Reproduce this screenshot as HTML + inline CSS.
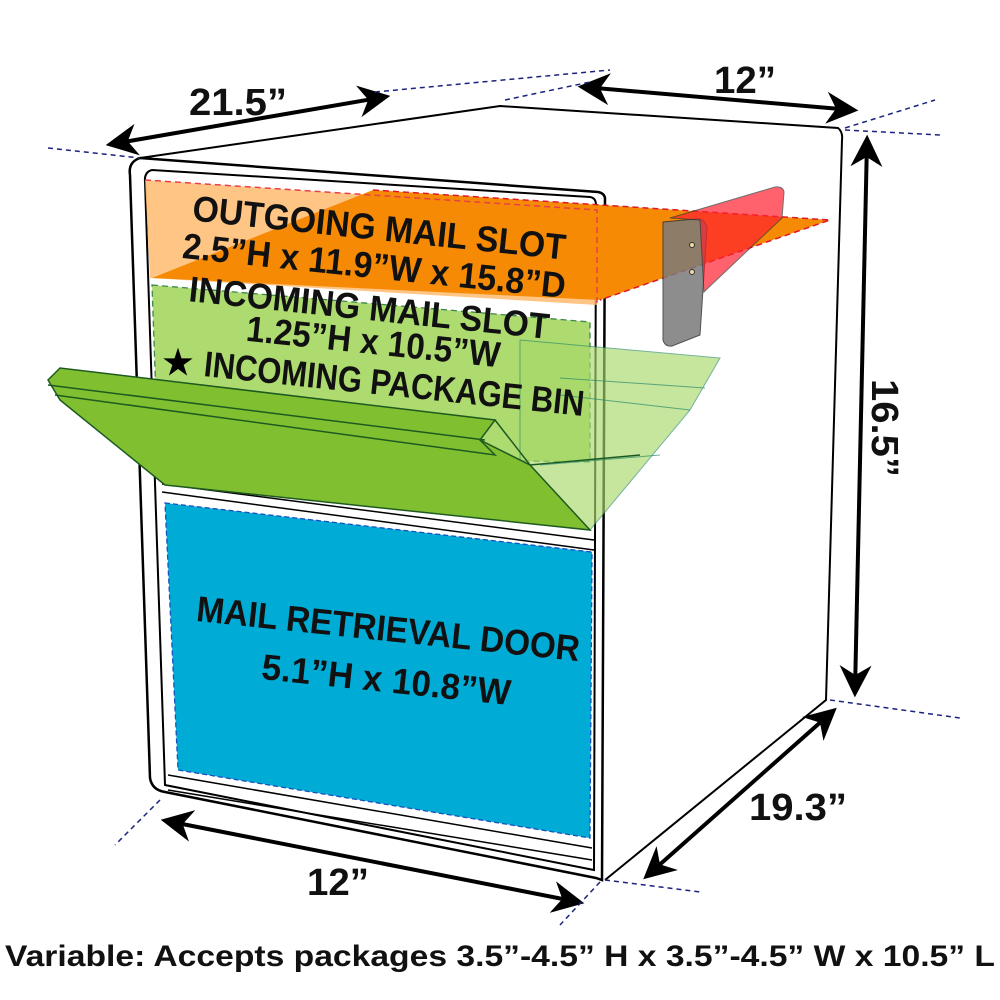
<!DOCTYPE html>
<html><head><style>body{margin:0;background:#fff}svg{display:block}</style></head><body>
<svg width="1000" height="1000" viewBox="0 0 1000 1000" xmlns="http://www.w3.org/2000/svg" font-family="Liberation Sans, sans-serif">
<defs>
<marker id="ah" viewBox="0 0 10 10" refX="8" refY="5" markerWidth="8" markerHeight="8" orient="auto-start-reverse"><path d="M0,0 L10,5 L0,10 L3,5 z" fill="#000"/></marker>
</defs>
<path d="M140,158 L500,106 L838,128 Q843,132 842,140 L826,700 L605,880" fill="none" stroke="#000" stroke-width="2"/>
<path d="M140,158 Q128,162 130,175 L150,778 Q152,790 165,792 L596,878 L602,880 L605,198 Q604,193 598,192 Z" fill="#fff" stroke="#000" stroke-width="2.5"/>
<path d="M152,170 Q144,172 145,182 L165,785 L594,870 L596,205 Q596,198 590,197 Z" fill="none" stroke="#000" stroke-width="2"/>
<line x1="162" y1="484" x2="594" y2="540" stroke="#000" stroke-width="1.5"/>
<line x1="162" y1="492" x2="594" y2="550" stroke="#000" stroke-width="1.5"/>
<line x1="168" y1="775" x2="592" y2="848" stroke="#000" stroke-width="1.5"/>
<line x1="168" y1="790" x2="592" y2="860" stroke="#000" stroke-width="1.5"/>
<path d="M165,503 L592,552 L590,838 L178,770 Z" fill="#00acd6" stroke="#1a4fc0" stroke-width="1.3" stroke-dasharray="5,3"/>
<path d="M145,180 L597,210 L597,305 L150,278 Z" fill="#ffb767" opacity="0.8"/>
<path d="M373,190 L830,220 L600,300 L152,278 Z" fill="#f68a05"/>
<path d="M145,180 L597,210 L597,305" fill="none" stroke="#e8404a" stroke-width="1.5" stroke-dasharray="6,4"/>
<path d="M373,190 L830,220 L600,300" fill="none" stroke="#e0182a" stroke-width="1.5" stroke-dasharray="6,4"/>
<path d="M663,222 L663,340 Q665,347 672,346 L700,335 L707,228 Q705,218 695,219 Z" fill="#7a7a7a" opacity="0.85" stroke="#333" stroke-width="1"/>
<path d="M670,218 L775,187 Q783,186 784,192 L782,218 L708,288 L704,292 L700,220 Z" fill="#ff2030" opacity="0.7" stroke="#333" stroke-width="1"/>
<circle cx="692" cy="245" r="2.5" fill="#f3d9a0" stroke="#333"/>
<circle cx="692" cy="272" r="2.5" fill="#f3d9a0" stroke="#333"/>
<path d="M152,285 L590,322 L590,462 L158,455 Z" fill="#a6d860" opacity="0.9" stroke="#2a7a3a" stroke-width="1.3" stroke-dasharray="6,4"/>
<path d="M520,340 L720,358 L690,410 L590,530 L520,470 Z" fill="#a8d86a" opacity="0.65" stroke="#2a8a6a" stroke-width="1"/>
<path d="M48,380 L60,368 L495,420 L480,440 L530,465 L590,530 L165,485 L60,400 Z" fill="#80c030" stroke="#1e5a20" stroke-width="1.5"/>
<path d="M48,385 L485,440 M55,395 L495,455 L480,440 M495,420 L530,465 L640,455" fill="none" stroke="#1e5a20" stroke-width="1.5"/>
<path d="M560,378 L705,388 M560,395 L690,410 M540,465 L660,455" stroke="#2a8a6a" stroke-width="1" opacity="0.7"/>
<g font-weight="bold" fill="#111" font-size="36" text-anchor="middle" lengthAdjust="spacingAndGlyphs">
<text transform="translate(378,240) rotate(6)" textLength="375" lengthAdjust="spacingAndGlyphs">OUTGOING MAIL SLOT</text>
<text transform="translate(373,278) rotate(6)" textLength="385" lengthAdjust="spacingAndGlyphs">2.5”H x 11.9”W x 15.8”D</text>
<text transform="translate(368,320) rotate(6)" textLength="362" lengthAdjust="spacingAndGlyphs">INCOMING MAIL SLOT</text>
<text transform="translate(372,354) rotate(6)" textLength="255" lengthAdjust="spacingAndGlyphs">1.25”H x 10.5”W</text>
<text transform="translate(393,396) rotate(6)" textLength="382" lengthAdjust="spacingAndGlyphs">INCOMING PACKAGE BIN</text>
<text transform="translate(387,641) rotate(6)" textLength="385" lengthAdjust="spacingAndGlyphs">MAIL RETRIEVAL DOOR</text>
<text transform="translate(385,692) rotate(6)" textLength="250" lengthAdjust="spacingAndGlyphs">5.1”H x 10.8”W</text>
</g>
<text x="178" y="374" font-size="34" font-weight="bold" text-anchor="middle">★</text>
<g stroke="#000" stroke-width="4" fill="none" marker-start="url(#ah)" marker-end="url(#ah)">
<line x1="112" y1="144" x2="384" y2="97"/>
<line x1="584" y1="87" x2="852" y2="110"/>
<line x1="867" y1="141" x2="855" y2="691"/>
<line x1="832" y1="712" x2="648" y2="875"/>
<line x1="167" y1="821" x2="578" y2="902"/>
</g>
<g stroke="#1a237e" stroke-width="1.5" stroke-dasharray="5,4" fill="none">
<line x1="48" y1="148" x2="140" y2="158"/>
<line x1="375" y1="92" x2="610" y2="70"/>
<line x1="505" y1="100" x2="590" y2="82"/>
<line x1="845" y1="128" x2="935" y2="100"/>
<line x1="845" y1="130" x2="940" y2="135"/>
<line x1="830" y1="700" x2="960" y2="718"/>
<line x1="605" y1="880" x2="700" y2="892"/>
<line x1="160" y1="800" x2="115" y2="845"/>
<line x1="600" y1="882" x2="560" y2="925"/>
</g>
<g font-weight="bold" font-size="38" fill="#111" text-anchor="middle">
<text x="238" y="115" textLength="98" lengthAdjust="spacingAndGlyphs">21.5”</text>
<text x="745" y="93" textLength="62" lengthAdjust="spacingAndGlyphs">12”</text>
<text transform="translate(872,428) rotate(90)" textLength="98" lengthAdjust="spacingAndGlyphs">16.5”</text>
<text x="798" y="820" textLength="98" lengthAdjust="spacingAndGlyphs">19.3”</text>
<text x="338" y="895" textLength="62" lengthAdjust="spacingAndGlyphs">12”</text>
<text x="500" y="966" font-size="30" textLength="990" lengthAdjust="spacingAndGlyphs">Variable: Accepts packages 3.5”-4.5” H x 3.5”-4.5” W x 10.5” L</text>
</g>
</svg>
</body></html>
